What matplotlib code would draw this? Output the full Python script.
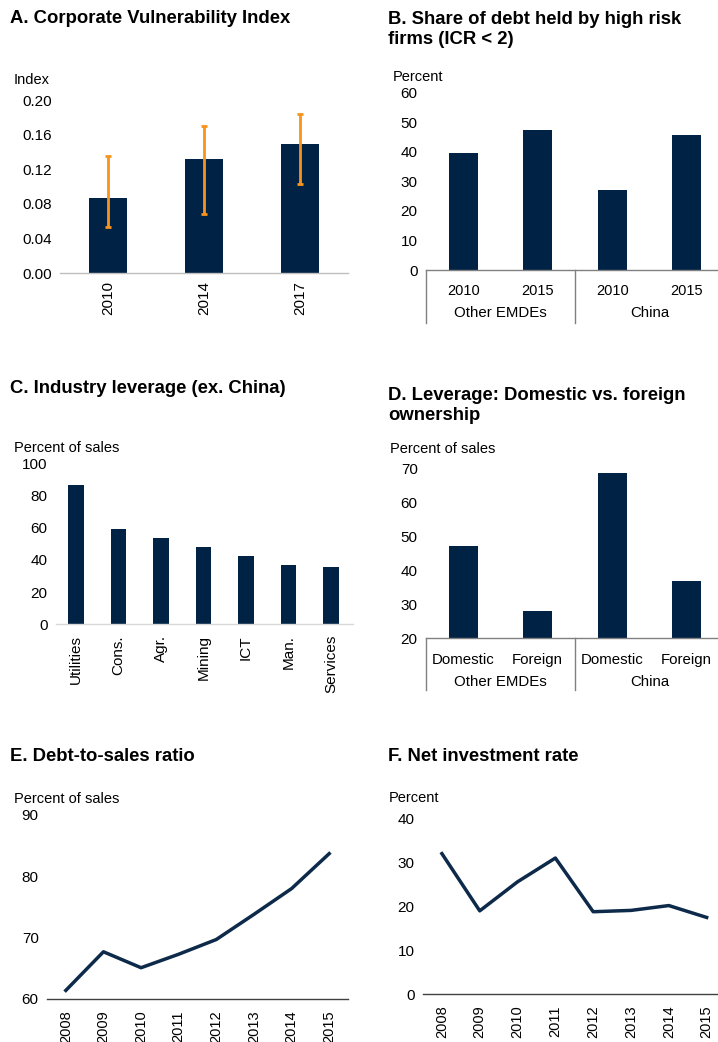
import numpy as np
import matplotlib.pyplot as plt
from matplotlib import transforms

plt.rcParams['font.family'] = ['Liberation Sans', 'DejaVu Sans']

W, H = 718, 1042
navy = '#002345'
orange = '#F7941D'
linec = '#0D2A4A'

# A. Corporate Vulnerability Index
a_years = ['2010', '2014', '2017']
a_vals = [0.087, 0.132, 0.149]
a_low = [0.053, 0.068, 0.103]
a_high = [0.135, 0.170, 0.184]

# B. Share of debt held by high risk firms
b_years = ['2010', '2015', '2010', '2015']
b_groups = ['Other EMDEs', 'China']
b_vals = [39.5, 47.5, 27.2, 45.6]

# C. Industry leverage
c_inds = ['Utilities', 'Cons.', 'Agr.', 'Mining', 'ICT', 'Man.', 'Services']
c_vals = [87.0, 59.5, 53.6, 48.2, 42.6, 37.0, 35.7]

# D. Domestic vs foreign
d_cats = ['Domestic', 'Foreign', 'Domestic', 'Foreign']
d_groups = ['Other EMDEs', 'China']
d_vals = [47.1, 28.0, 68.6, 36.8]

# E. Debt-to-sales ratio
e_years = ['2008', '2009', '2010', '2011', '2012', '2013', '2014', '2015']
e_vals = [61.4, 67.7, 65.1, 67.3, 69.7, 73.8, 78.0, 83.7]

# F. Net investment rate
f_years = ['2008', '2009', '2010', '2011', '2012', '2013', '2014', '2015']
f_vals = [31.9, 18.9, 25.5, 30.9, 18.7, 19.0, 20.1, 17.4]

fig = plt.figure(figsize=(W / 100, H / 100), dpi=100)


def axes_px(x0, x1, ytop, ybot):
    return fig.add_axes([x0 / W, 1 - ybot / H, (x1 - x0) / W, (ybot - ytop) / H])


def style(ax, spine_color):
    for s in ['top', 'right', 'left']:
        ax.spines[s].set_visible(False)
    ax.spines['bottom'].set_color(spine_color)
    ax.spines['bottom'].set_linewidth(1.0)
    ax.tick_params(axis='y', length=0, labelsize=11, pad=6)
    ax.tick_params(axis='x', length=0, labelsize=10.5)


def title(x, ytop, s, **kw):
    fig.text(x / W, 1 - ytop / H, s, fontsize=13.3, fontweight='bold', va='top', ha='left',
             linespacing=1.22, **kw)


def unit(x, yc, s):
    fig.text(x / W, 1 - yc / H, s, fontsize=10.5, va='center', ha='left')


def two_level(ax, groups, ypx_axis, lab_px, line_px):
    tr = transforms.blended_transform_factory(ax.transData, ax.transAxes)
    for xs in [-0.5, 1.5, 3.5]:
        ax.plot([xs, xs], [0, -line_px / ypx_axis], color='#808080', lw=1.0,
                transform=tr, clip_on=False)
    for i, g in enumerate(groups):
        ax.text(0.5 + 2 * i, -lab_px / ypx_axis, g, transform=tr, ha='center', va='center',
                fontsize=10.8)


# Panel A
title(10, 10, 'A. Corporate Vulnerability Index')
unit(14, 80, 'Index')
ax = axes_px(60, 348, 100, 273)
xa = np.arange(len(a_years))
err = [np.array(a_vals) - np.array(a_low), np.array(a_high) - np.array(a_vals)]
ax.bar(xa, a_vals, width=0.4, color=navy)
ax.errorbar(xa, a_vals, yerr=err, fmt='none', ecolor=orange, elinewidth=2, capsize=2,
            capthick=2)
ax.set_xlim(-0.5, 2.5)
ax.set_ylim(0, 0.2)
ax.set_yticks([0, 0.04, 0.08, 0.12, 0.16, 0.2])
ax.set_yticklabels(['0.00', '0.04', '0.08', '0.12', '0.16', '0.20'])
ax.set_xticks(xa)
ax.set_xticklabels(a_years, rotation=90)
style(ax, '#BFBFBF')
ax.tick_params(axis='x', pad=6, labelsize=11)

# Panel B
title(388, 11, 'B. Share of debt held by high risk\nfirms (ICR < 2)')
unit(393, 77, 'Percent')
ax = axes_px(426, 718, 93, 270)
xb = np.arange(len(b_years))
ax.bar(xb, b_vals, width=0.39, color=navy)
ax.set_xlim(-0.5, 3.42)
ax.set_ylim(0, 60)
ax.set_yticks(range(0, 61, 10))
ax.set_xticks(xb)
ax.set_xticklabels(b_years)
style(ax, '#808080')
ax.tick_params(axis='x', pad=10)
two_level(ax, b_groups, 177, 43, 53)

# Panel C
title(10, 380, 'C. Industry leverage (ex. China)')
unit(14, 448, 'Percent of sales')
ax = axes_px(56, 353, 464, 624)
xc = np.arange(len(c_inds))
ax.bar(xc, c_vals, width=0.37, color=navy)
ax.set_xlim(-0.47, 6.52)
ax.set_ylim(0, 100)
ax.set_yticks(range(0, 101, 20))
ax.set_xticks(xc)
ax.set_xticklabels(c_inds, rotation=90)
style(ax, '#D9D9D9')
ax.tick_params(axis='x', pad=8, labelsize=11)

# Panel D
title(388, 387, 'D. Leverage: Domestic vs. foreign\nownership')
unit(390, 449, 'Percent of sales')
ax = axes_px(426, 718, 468, 638)
xd = np.arange(len(d_cats))
ax.bar(xd, d_vals, width=0.39, color=navy)
ax.set_xlim(-0.5, 3.42)
ax.set_ylim(20, 70)
ax.set_yticks(range(20, 71, 10))
ax.set_xticks(xd)
ax.set_xticklabels(d_cats)
style(ax, '#808080')
ax.tick_params(axis='x', pad=11, labelsize=10.8)
two_level(ax, d_groups, 170, 44, 52)

# Panel E
title(10, 748, 'E. Debt-to-sales ratio')
unit(14, 799, 'Percent of sales')
ax = axes_px(47, 348, 815, 999)
xe = np.arange(len(e_years))
ax.plot(xe, e_vals, color=linec, lw=2.5)
ax.set_xlim(-0.5, 7.5)
ax.set_ylim(60, 90)
ax.set_yticks([60, 70, 80, 90])
ax.set_xticks(xe)
ax.set_xticklabels(e_years, rotation=90)
style(ax, '#404040')
ax.tick_params(axis='x', pad=8)

# Panel F
title(388, 748, 'F. Net investment rate')
unit(389, 798, 'Percent')
ax = axes_px(423, 718, 818, 994)
xf = np.arange(len(f_years))
ax.plot(xf, f_vals, color=linec, lw=2.5)
ax.set_xlim(-0.5, 7.3)
ax.set_ylim(0, 40)
ax.set_yticks(range(0, 41, 10))
ax.set_xticks(xf)
ax.set_xticklabels(f_years, rotation=90)
style(ax, '#404040')
ax.tick_params(axis='x', pad=8)

fig.savefig('out.png', dpi=100)
